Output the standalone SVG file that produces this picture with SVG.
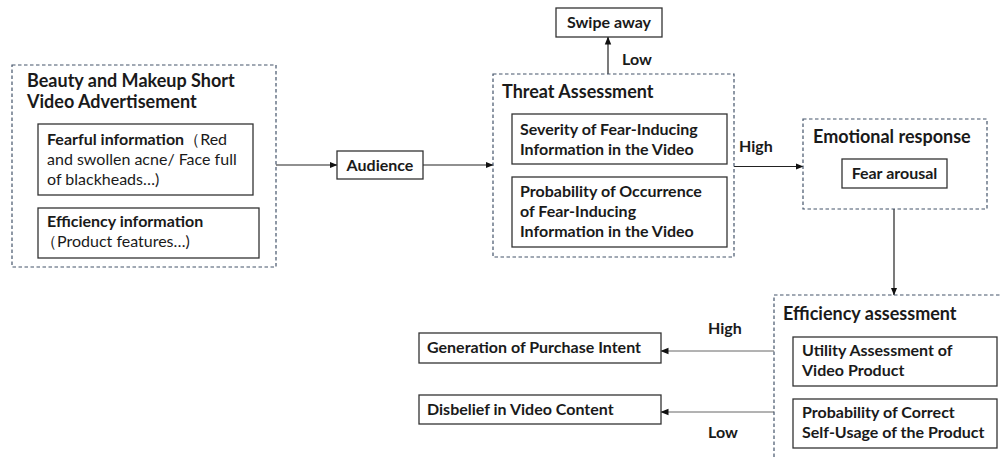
<svg xmlns="http://www.w3.org/2000/svg" width="1002" height="458" viewBox="0 0 1002 458">
<style>
  text { font-family: Lato, "Liberation Sans", sans-serif; fill: #1a1a1a; }
  .t { font-size: 18px; font-weight: bold; }
  .b { font-size: 16px; font-weight: bold; }
  .n { font-size: 16px; font-weight: normal; }
  .dash { fill: none; stroke: #44546a; stroke-width: 1.2; stroke-dasharray: 3.5 2.5; }
  .box { fill: #ffffff; stroke: #333333; stroke-width: 1.3; }
  .c { fill: none; stroke: #222222; stroke-width: 1.2; marker-end: url(#ah); }
  .cg { fill: none; stroke: #666666; stroke-width: 1; marker-end: url(#ah); }
</style>
<defs>
  <marker id="ah" viewBox="0 0 8 8" refX="7.5" refY="4" markerWidth="8" markerHeight="8" markerUnits="userSpaceOnUse" orient="auto">
    <path d="M0,0.8 L8,4 L0,7.2 Z" fill="#111111"/>
  </marker>
</defs>
<rect width="1002" height="458" fill="#ffffff"/>

<g id="connectors">
  <path class="c" d="M276,165 H337"/>
  <path class="c" d="M423,165 H493"/>
  <path class="c" d="M608,74 V37"/>
  <path class="c" d="M734,166.5 H803"/>
  <path class="c" d="M894,209 V295"/>
  <path class="cg" d="M774,351 H661"/>
  <path class="cg" d="M774,412 H661"/>
  <text class="b" x="622" y="65">Low</text>
  <text class="b" x="739" y="152">High</text>
  <text class="b" x="708" y="334">High</text>
  <text class="b" x="708" y="438">Low</text>
</g>

<g id="ad">
  <rect class="dash" x="12" y="65" width="264" height="202"/>
  <text class="t" x="27" y="87">Beauty and Makeup Short</text>
  <text class="t" x="27" y="108">Video Advertisement</text>
</g>
<g id="fearful">
  <rect class="box" x="38" y="124" width="215" height="71"/>
  <text x="47" y="145"><tspan class="b">Fearful information</tspan><tspan class="n">（Red</tspan></text>
  <text class="n" x="47" y="165">and swollen acne/ Face full</text>
  <text class="n" x="47" y="185">of blackheads…)</text>
</g>
<g id="efficiency-info">
  <rect class="box" x="38" y="208" width="221" height="50"/>
  <text class="b" x="47" y="227">Efficiency information</text>
  <text class="n" x="41" y="247">（Product features…)</text>
</g>

<g id="audience">
  <rect class="box" x="337" y="151" width="86" height="28"/>
  <text class="b" x="380" y="171" text-anchor="middle">Audience</text>
</g>

<g id="swipe">
  <rect class="box" x="556" y="8" width="106" height="29"/>
  <text class="b" x="609" y="28" text-anchor="middle">Swipe away</text>
</g>

<g id="threat">
  <rect class="dash" x="493" y="74" width="241" height="183"/>
  <text class="t" x="502" y="98">Threat Assessment</text>
</g>
<g id="severity">
  <rect class="box" x="512" y="114" width="215" height="50"/>
  <text class="b" x="520" y="135">Severity of Fear-Inducing</text>
  <text class="b" x="520" y="155">Information in the Video</text>
</g>
<g id="probability">
  <rect class="box" x="512" y="177" width="215" height="70"/>
  <text class="b" x="520" y="197">Probability of Occurrence</text>
  <text class="b" x="520" y="217">of Fear-Inducing</text>
  <text class="b" x="520" y="237">Information in the Video</text>
</g>

<g id="emotional">
  <rect class="dash" x="803" y="119" width="184" height="90"/>
  <text class="t" x="813" y="143">Emotional response</text>
</g>
<g id="fear-arousal">
  <rect class="box" x="842" y="159" width="105" height="29"/>
  <text class="b" x="894.5" y="179" text-anchor="middle">Fear arousal</text>
</g>

<g id="efficiency-assessment">
  <rect class="dash" x="774" y="295" width="240" height="180"/>
  <text class="t" x="783" y="320">Efficiency assessment</text>
</g>
<g id="utility">
  <rect class="box" x="793" y="337" width="204" height="49"/>
  <text class="b" x="802" y="356">Utility Assessment of</text>
  <text class="b" x="802" y="376">Video Product</text>
</g>
<g id="self-usage">
  <rect class="box" x="793" y="399" width="204" height="49"/>
  <text class="b" x="802" y="418">Probability of Correct</text>
  <text class="b" x="802" y="438">Self-Usage of the Product</text>
</g>

<g id="purchase">
  <rect class="box" x="419" y="333" width="242" height="30"/>
  <text class="b" x="427" y="353">Generation of Purchase Intent</text>
</g>
<g id="disbelief">
  <rect class="box" x="419" y="395" width="242" height="29"/>
  <text class="b" x="427" y="415">Disbelief in Video Content</text>
</g>
</svg>
